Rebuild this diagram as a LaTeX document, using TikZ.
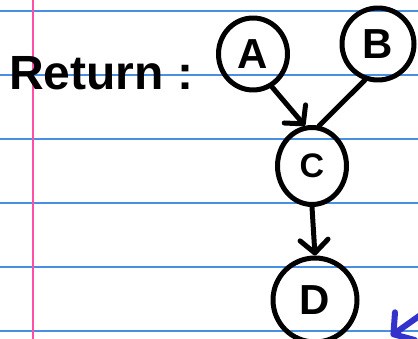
\documentclass[tikz,border=0pt]{standalone}
\usepackage{fontspec}
\setmainfont{Liberation Sans}
\usetikzlibrary{arrows.meta,shapes.geometric}
\definecolor{ruleblue}{HTML}{4A90E2}
\definecolor{marginpink}{HTML}{FF4FA8}
\definecolor{penblue}{HTML}{3333CC}
\tikzset{
  ink/.style={line width=5pt, line cap=round, line join=round, black},
  bubble/.style={ellipse, draw, ink, inner sep=0pt, font=\fontsize{42}{42}\selectfont\bfseries},
  pointer/.style={ink, -{Straight Barb[length=13pt,width=28pt,line width=5pt,round]}},
  rule/.style={ruleblue, line width=1.6pt},
  margin/.style={marginpink, line width=2pt}
}
\begin{document}
\begin{tikzpicture}[x=1pt,y=-1pt]
\useasboundingbox (0,0) rectangle (418,339);
\fill[white] (0,0) rectangle (418,339);
\foreach \y in {11,75,139,203,267,331} \draw[rule] (0,\y) -- (418,\y);
\draw[margin] (33,0) -- (33,339);

\node[anchor=base west, font=\fontsize{48}{48}\selectfont\bfseries, inner sep=0pt] (ret) at (9,90) {Return :};

\node[bubble, minimum width=69pt, minimum height=72pt] (A) at (253,54) {A};
\node[bubble, minimum width=72pt, minimum height=72pt] (B) at (378,44) {B};
\node[bubble, minimum width=69pt, minimum height=77pt, font=\fontsize{34}{34}\selectfont\bfseries] (C) at (312,166) {C};
\node[bubble, minimum width=84pt, minimum height=84pt] (D) at (315,300) {D};

\draw[pointer] (A.-60) -- (C.100);
\draw[ink] (B.-110) -- (C.80);
\draw[pointer] (C.south) -- (D.north);

\coordinate (bs) at (436,304);
\coordinate (bt) at (391,336);
\draw[ink, penblue, line width=6pt, -{Straight Barb[length=14pt,width=34pt,line width=6pt,round]}] (bs) -- (bt);
\end{tikzpicture}
\end{document}
